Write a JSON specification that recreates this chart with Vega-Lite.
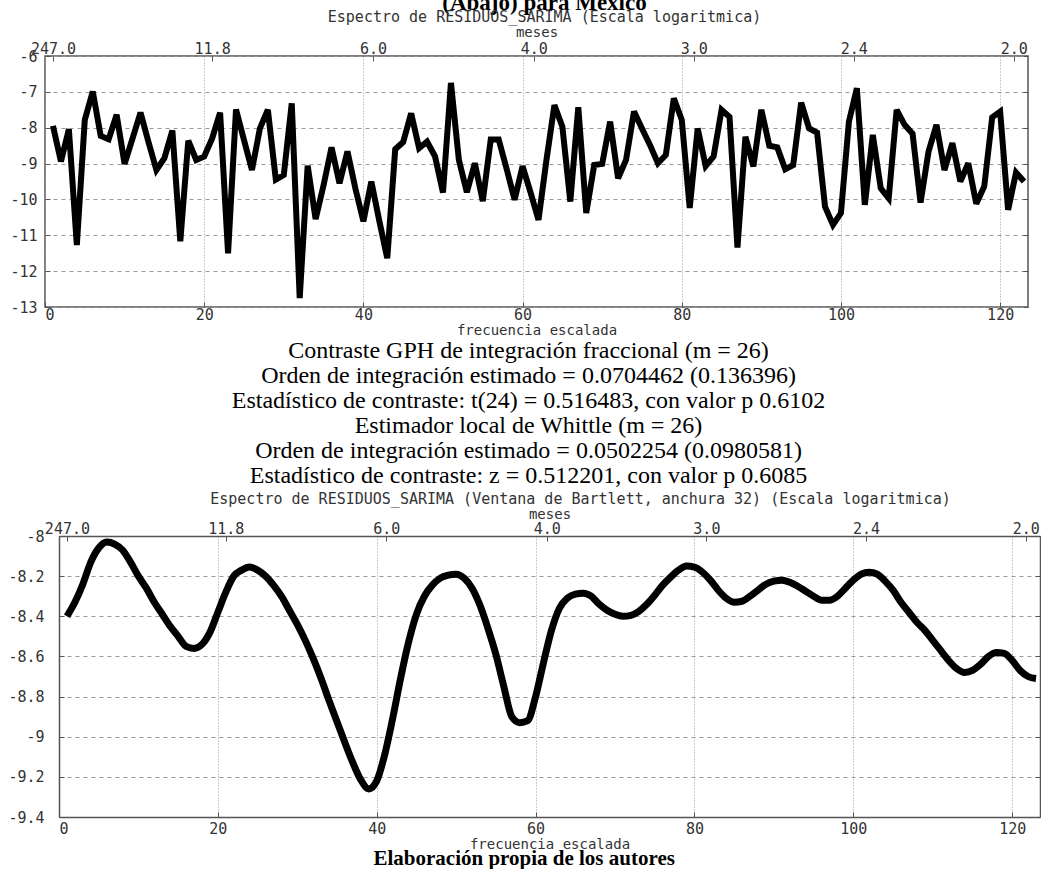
{
  "$schema": "https://vega.github.io/schema/vega-lite/v6.json",
  "background": "white",
  "padding": {"left": 7, "top": -9, "right": 0, "bottom": 0},
  "config": {
    "view": {"stroke": "#555", "strokeWidth": 1.5},
    "axis": {
      "labelFont": "DejaVu Sans Mono", "labelFontSize": 15, "labelColor": "#333",
      "titleFont": "DejaVu Sans Mono", "titleFontSize": 14, "titleFontWeight": "normal", "titleColor": "#333",
      "domain": false, "domainColor": "#555", "domainWidth": 1.5, "tickColor": "#555", "gridColor": "#999", "gridWidth": 1
    }
  },
  "title": {
    "text": "Elaboración propia de los autores", "orient": "bottom", "anchor": "middle",
    "font": "Liberation Serif", "fontSize": 21, "fontWeight": "bold", "color": "black", "offset": -3
  },
  "datasets": {
    "periodograma": [
      {"frecuencia": 1, "log_espectro": -7.95}, {"frecuencia": 2, "log_espectro": -8.94}, {"frecuencia": 3, "log_espectro": -8.04},
      {"frecuencia": 4, "log_espectro": -11.27}, {"frecuencia": 5, "log_espectro": -7.78}, {"frecuencia": 6, "log_espectro": -6.99},
      {"frecuencia": 7, "log_espectro": -8.23}, {"frecuencia": 8, "log_espectro": -8.32}, {"frecuencia": 9, "log_espectro": -7.64},
      {"frecuencia": 10, "log_espectro": -9.01}, {"frecuencia": 11, "log_espectro": -8.3}, {"frecuencia": 12, "log_espectro": -7.58},
      {"frecuencia": 13, "log_espectro": -8.4}, {"frecuencia": 14, "log_espectro": -9.18}, {"frecuencia": 15, "log_espectro": -8.85},
      {"frecuencia": 16, "log_espectro": -8.08}, {"frecuencia": 17, "log_espectro": -11.17}, {"frecuencia": 18, "log_espectro": -8.36},
      {"frecuencia": 19, "log_espectro": -8.9}, {"frecuencia": 20, "log_espectro": -8.8}, {"frecuencia": 21, "log_espectro": -8.3},
      {"frecuencia": 22, "log_espectro": -7.58}, {"frecuencia": 23, "log_espectro": -11.5}, {"frecuencia": 24, "log_espectro": -7.49},
      {"frecuencia": 25, "log_espectro": -8.34}, {"frecuencia": 26, "log_espectro": -9.18}, {"frecuencia": 27, "log_espectro": -8.02},
      {"frecuencia": 28, "log_espectro": -7.5}, {"frecuencia": 29, "log_espectro": -9.45}, {"frecuencia": 30, "log_espectro": -9.32},
      {"frecuencia": 31, "log_espectro": -7.32}, {"frecuencia": 32, "log_espectro": -12.75}, {"frecuencia": 33, "log_espectro": -9.06},
      {"frecuencia": 34, "log_espectro": -10.55}, {"frecuencia": 35, "log_espectro": -9.6}, {"frecuencia": 36, "log_espectro": -8.55},
      {"frecuencia": 37, "log_espectro": -9.55}, {"frecuencia": 38, "log_espectro": -8.66}, {"frecuencia": 39, "log_espectro": -9.7},
      {"frecuencia": 40, "log_espectro": -10.61}, {"frecuencia": 41, "log_espectro": -9.5}, {"frecuencia": 42, "log_espectro": -10.6},
      {"frecuencia": 43, "log_espectro": -11.64}, {"frecuencia": 44, "log_espectro": -8.6}, {"frecuencia": 45, "log_espectro": -8.4},
      {"frecuencia": 46, "log_espectro": -7.6}, {"frecuencia": 47, "log_espectro": -8.57}, {"frecuencia": 48, "log_espectro": -8.39},
      {"frecuencia": 49, "log_espectro": -8.8}, {"frecuencia": 50, "log_espectro": -9.81}, {"frecuencia": 51, "log_espectro": -6.75},
      {"frecuencia": 52, "log_espectro": -8.9}, {"frecuencia": 53, "log_espectro": -9.8}, {"frecuencia": 54, "log_espectro": -8.99},
      {"frecuencia": 55, "log_espectro": -10.05}, {"frecuencia": 56, "log_espectro": -8.33}, {"frecuencia": 57, "log_espectro": -8.33},
      {"frecuencia": 58, "log_espectro": -9.15}, {"frecuencia": 59, "log_espectro": -10.01}, {"frecuencia": 60, "log_espectro": -9.07},
      {"frecuencia": 61, "log_espectro": -9.8}, {"frecuencia": 62, "log_espectro": -10.57}, {"frecuencia": 63, "log_espectro": -8.9},
      {"frecuencia": 64, "log_espectro": -7.37}, {"frecuencia": 65, "log_espectro": -7.97}, {"frecuencia": 66, "log_espectro": -10.06},
      {"frecuencia": 67, "log_espectro": -7.43}, {"frecuencia": 68, "log_espectro": -10.38}, {"frecuencia": 69, "log_espectro": -9.04},
      {"frecuencia": 70, "log_espectro": -9.01}, {"frecuencia": 71, "log_espectro": -7.83}, {"frecuencia": 72, "log_espectro": -9.41},
      {"frecuencia": 73, "log_espectro": -8.9}, {"frecuencia": 74, "log_espectro": -7.55}, {"frecuencia": 75, "log_espectro": -8.02},
      {"frecuencia": 76, "log_espectro": -8.48}, {"frecuencia": 77, "log_espectro": -8.99}, {"frecuencia": 78, "log_espectro": -8.76},
      {"frecuencia": 79, "log_espectro": -7.18}, {"frecuencia": 80, "log_espectro": -7.78}, {"frecuencia": 81, "log_espectro": -10.24},
      {"frecuencia": 82, "log_espectro": -8.02}, {"frecuencia": 83, "log_espectro": -9.07}, {"frecuencia": 84, "log_espectro": -8.8},
      {"frecuencia": 85, "log_espectro": -7.5}, {"frecuencia": 86, "log_espectro": -7.7}, {"frecuencia": 87, "log_espectro": -11.34},
      {"frecuencia": 88, "log_espectro": -8.25}, {"frecuencia": 89, "log_espectro": -9.08}, {"frecuencia": 90, "log_espectro": -7.5},
      {"frecuencia": 91, "log_espectro": -8.5}, {"frecuencia": 92, "log_espectro": -8.55}, {"frecuencia": 93, "log_espectro": -9.16},
      {"frecuencia": 94, "log_espectro": -9.04}, {"frecuencia": 95, "log_espectro": -7.3}, {"frecuencia": 96, "log_espectro": -8.02},
      {"frecuencia": 97, "log_espectro": -8.14}, {"frecuencia": 98, "log_espectro": -10.2}, {"frecuencia": 99, "log_espectro": -10.71},
      {"frecuencia": 100, "log_espectro": -10.38}, {"frecuencia": 101, "log_espectro": -7.83}, {"frecuencia": 102, "log_espectro": -6.9},
      {"frecuencia": 103, "log_espectro": -10.15}, {"frecuencia": 104, "log_espectro": -8.2}, {"frecuencia": 105, "log_espectro": -9.69},
      {"frecuencia": 106, "log_espectro": -9.97}, {"frecuencia": 107, "log_espectro": -7.5}, {"frecuencia": 108, "log_espectro": -7.92},
      {"frecuencia": 109, "log_espectro": -8.17}, {"frecuencia": 110, "log_espectro": -10.09}, {"frecuencia": 111, "log_espectro": -8.67},
      {"frecuencia": 112, "log_espectro": -7.92}, {"frecuencia": 113, "log_espectro": -9.18}, {"frecuencia": 114, "log_espectro": -8.43},
      {"frecuencia": 115, "log_espectro": -9.5}, {"frecuencia": 116, "log_espectro": -8.99}, {"frecuencia": 117, "log_espectro": -10.12},
      {"frecuencia": 118, "log_espectro": -9.64}, {"frecuencia": 119, "log_espectro": -7.71}, {"frecuencia": 120, "log_espectro": -7.55},
      {"frecuencia": 121, "log_espectro": -10.29}, {"frecuencia": 122, "log_espectro": -9.25}, {"frecuencia": 123, "log_espectro": -9.5}
    ],
    "contrastes": [
      {"orden": 1, "linea": "Contraste GPH de integración fraccional (m = 26)"},
      {"orden": 2, "linea": "Orden de integración estimado = 0.0704462 (0.136396)"},
      {"orden": 3, "linea": "Estadístico de contraste: t(24) = 0.516483, con valor p  0.6102"},
      {"orden": 4, "linea": "Estimador local de Whittle (m = 26)"},
      {"orden": 5, "linea": "Orden de integración estimado = 0.0502254 (0.0980581)"},
      {"orden": 6, "linea": "Estadístico de contraste: z = 0.512201, con valor p  0.6085"}
    ],
    "bartlett": [
      {"frecuencia": 1, "log_espectro": -8.4}, {"frecuencia": 2, "log_espectro": -8.33}, {"frecuencia": 3, "log_espectro": -8.24},
      {"frecuencia": 4, "log_espectro": -8.13}, {"frecuencia": 5, "log_espectro": -8.06}, {"frecuencia": 6, "log_espectro": -8.03},
      {"frecuencia": 7, "log_espectro": -8.04}, {"frecuencia": 8, "log_espectro": -8.07}, {"frecuencia": 9, "log_espectro": -8.13},
      {"frecuencia": 10, "log_espectro": -8.2}, {"frecuencia": 11, "log_espectro": -8.26}, {"frecuencia": 12, "log_espectro": -8.33},
      {"frecuencia": 13, "log_espectro": -8.39}, {"frecuencia": 14, "log_espectro": -8.45}, {"frecuencia": 15, "log_espectro": -8.5},
      {"frecuencia": 16, "log_espectro": -8.55}, {"frecuencia": 17, "log_espectro": -8.56}, {"frecuencia": 18, "log_espectro": -8.54},
      {"frecuencia": 19, "log_espectro": -8.48}, {"frecuencia": 20, "log_espectro": -8.38}, {"frecuencia": 21, "log_espectro": -8.28},
      {"frecuencia": 22, "log_espectro": -8.2}, {"frecuencia": 23, "log_espectro": -8.17}, {"frecuencia": 24, "log_espectro": -8.155},
      {"frecuencia": 25, "log_espectro": -8.17}, {"frecuencia": 26, "log_espectro": -8.2}, {"frecuencia": 27, "log_espectro": -8.245},
      {"frecuencia": 28, "log_espectro": -8.3}, {"frecuencia": 29, "log_espectro": -8.37}, {"frecuencia": 30, "log_espectro": -8.44},
      {"frecuencia": 31, "log_espectro": -8.52}, {"frecuencia": 32, "log_espectro": -8.61}, {"frecuencia": 33, "log_espectro": -8.71},
      {"frecuencia": 34, "log_espectro": -8.82}, {"frecuencia": 35, "log_espectro": -8.925}, {"frecuencia": 36, "log_espectro": -9.03},
      {"frecuencia": 37, "log_espectro": -9.13}, {"frecuencia": 38, "log_espectro": -9.215}, {"frecuencia": 39, "log_espectro": -9.26},
      {"frecuencia": 40, "log_espectro": -9.22}, {"frecuencia": 41, "log_espectro": -9.09}, {"frecuencia": 42, "log_espectro": -8.91},
      {"frecuencia": 43, "log_espectro": -8.71}, {"frecuencia": 44, "log_espectro": -8.53}, {"frecuencia": 45, "log_espectro": -8.39},
      {"frecuencia": 46, "log_espectro": -8.3}, {"frecuencia": 47, "log_espectro": -8.245}, {"frecuencia": 48, "log_espectro": -8.21},
      {"frecuencia": 49, "log_espectro": -8.195}, {"frecuencia": 50, "log_espectro": -8.19}, {"frecuencia": 51, "log_espectro": -8.21},
      {"frecuencia": 52, "log_espectro": -8.26}, {"frecuencia": 53, "log_espectro": -8.345}, {"frecuencia": 54, "log_espectro": -8.46},
      {"frecuencia": 55, "log_espectro": -8.59}, {"frecuencia": 56, "log_espectro": -8.75}, {"frecuencia": 57, "log_espectro": -8.9},
      {"frecuencia": 58, "log_espectro": -8.93}, {"frecuencia": 59, "log_espectro": -8.92}, {"frecuencia": 60, "log_espectro": -8.8},
      {"frecuencia": 61, "log_espectro": -8.63}, {"frecuencia": 62, "log_espectro": -8.47}, {"frecuencia": 63, "log_espectro": -8.36},
      {"frecuencia": 64, "log_espectro": -8.31}, {"frecuencia": 65, "log_espectro": -8.29}, {"frecuencia": 66, "log_espectro": -8.285},
      {"frecuencia": 67, "log_espectro": -8.3}, {"frecuencia": 68, "log_espectro": -8.34}, {"frecuencia": 69, "log_espectro": -8.37},
      {"frecuencia": 70, "log_espectro": -8.39}, {"frecuencia": 71, "log_espectro": -8.4}, {"frecuencia": 72, "log_espectro": -8.395},
      {"frecuencia": 73, "log_espectro": -8.375}, {"frecuencia": 74, "log_espectro": -8.34}, {"frecuencia": 75, "log_espectro": -8.295},
      {"frecuencia": 76, "log_espectro": -8.245}, {"frecuencia": 77, "log_espectro": -8.205}, {"frecuencia": 78, "log_espectro": -8.17},
      {"frecuencia": 79, "log_espectro": -8.15}, {"frecuencia": 80, "log_espectro": -8.155}, {"frecuencia": 81, "log_espectro": -8.18},
      {"frecuencia": 82, "log_espectro": -8.22}, {"frecuencia": 83, "log_espectro": -8.27}, {"frecuencia": 84, "log_espectro": -8.31},
      {"frecuencia": 85, "log_espectro": -8.33}, {"frecuencia": 86, "log_espectro": -8.325}, {"frecuencia": 87, "log_espectro": -8.3},
      {"frecuencia": 88, "log_espectro": -8.27}, {"frecuencia": 89, "log_espectro": -8.24}, {"frecuencia": 90, "log_espectro": -8.225},
      {"frecuencia": 91, "log_espectro": -8.22}, {"frecuencia": 92, "log_espectro": -8.23}, {"frecuencia": 93, "log_espectro": -8.25},
      {"frecuencia": 94, "log_espectro": -8.275}, {"frecuencia": 95, "log_espectro": -8.3}, {"frecuencia": 96, "log_espectro": -8.32},
      {"frecuencia": 97, "log_espectro": -8.32}, {"frecuencia": 98, "log_espectro": -8.3}, {"frecuencia": 99, "log_espectro": -8.26},
      {"frecuencia": 100, "log_espectro": -8.22}, {"frecuencia": 101, "log_espectro": -8.19}, {"frecuencia": 102, "log_espectro": -8.18},
      {"frecuencia": 103, "log_espectro": -8.19}, {"frecuencia": 104, "log_espectro": -8.225}, {"frecuencia": 105, "log_espectro": -8.27},
      {"frecuencia": 106, "log_espectro": -8.33}, {"frecuencia": 107, "log_espectro": -8.38}, {"frecuencia": 108, "log_espectro": -8.43},
      {"frecuencia": 109, "log_espectro": -8.47}, {"frecuencia": 110, "log_espectro": -8.52}, {"frecuencia": 111, "log_espectro": -8.57},
      {"frecuencia": 112, "log_espectro": -8.62}, {"frecuencia": 113, "log_espectro": -8.66}, {"frecuencia": 114, "log_espectro": -8.68},
      {"frecuencia": 115, "log_espectro": -8.67}, {"frecuencia": 116, "log_espectro": -8.64}, {"frecuencia": 117, "log_espectro": -8.6},
      {"frecuencia": 118, "log_espectro": -8.58}, {"frecuencia": 119, "log_espectro": -8.585}, {"frecuencia": 120, "log_espectro": -8.62},
      {"frecuencia": 121, "log_espectro": -8.67}, {"frecuencia": 122, "log_espectro": -8.7}, {"frecuencia": 123, "log_espectro": -8.71}
    ]
  },
  "vconcat": [
    {
      "width": 983,
      "height": 251,
      "data": {"name": "periodograma"},
      "title": {
        "text": "(Abajo) para México",
        "subtitle": "Espectro de RESIDUOS_SARIMA (Escala logaritmica)",
        "anchor": "middle", "dx": 8, "font": "Liberation Serif", "fontSize": 23, "fontWeight": "bold", "color": "black",
        "subtitleFont": "DejaVu Sans Mono", "subtitleFontSize": 15, "subtitleColor": "#333", "subtitlePadding": -5, "offset": 0
      },
      "layer": [
        {
          "mark": {"type": "line", "color": "black", "strokeWidth": 6, "strokeJoin": "miter", "strokeMiterLimit": 3},
          "encoding": {
            "x": {"field": "frecuencia", "type": "quantitative",
              "scale": {"domain": [0, 123.5], "nice": false, "zero": false},
              "axis": {"orient": "bottom", "title": "frecuencia escalada", "values": [0, 20, 40, 60, 80, 100, 120],
                "grid": true, "gridDash": [1, 2], "tickSize": -5, "labelPadding": 5, "titlePadding": 1}},
            "y": {"field": "log_espectro", "type": "quantitative",
              "scale": {"domain": [-13, -6], "nice": false, "zero": false},
              "axis": {"orient": "left", "title": null, "values": [-13, -12, -11, -10, -9, -8, -7, -6],
                "grid": true, "gridDash": [4, 4], "tickSize": -5, "labelPadding": 13,
                "labelExpr": "datum.value < 0 ? '-' + format(-datum.value, '~g') : format(datum.value, '~g')"}}
          }
        },
        {
          "mark": {"type": "line", "opacity": 0},
          "encoding": {
            "x": {"field": "frecuencia", "type": "quantitative",
              "axis": {"orient": "top", "title": "meses", "values": [1, 21, 41.2, 61.4, 81.5, 101.6, 121.7],
                "grid": false, "tickSize": -5, "labelPadding": 5, "titlePadding": 2,
                "labelExpr": "format(247 / datum.value, '.1f')"}},
            "y": {"field": "log_espectro", "type": "quantitative",
              "axis": {"orient": "right", "title": null, "values": [-13, -12, -11, -10, -9, -8, -7, -6],
                "labels": false, "grid": false, "tickSize": -5}}
          }
        }
      ],
      "resolve": {"axis": {"x": "independent", "y": "independent"}}
    },
    {
      "width": 995,
      "height": 150,
      "view": {"stroke": null},
      "data": {"name": "contrastes"},
      "mark": {"type": "text", "font": "Liberation Serif", "fontSize": 24, "color": "black", "align": "center", "baseline": "middle", "dx": -14, "dy": -4},
      "encoding": {
        "y": {"field": "orden", "type": "ordinal", "axis": null, "scale": {"paddingInner": 0, "paddingOuter": 0}},
        "text": {"field": "linea", "type": "nominal"}
      }
    },
    {
      "width": 995,
      "height": 281,
      "view": {"stroke": null},
      "data": {"name": "bartlett"},
      "title": {
        "text": "Espectro de RESIDUOS_SARIMA (Ventana de Bartlett, anchura 32) (Escala logaritmica)",
        "anchor": "middle", "dx": 38, "font": "DejaVu Sans Mono", "fontSize": 15, "fontWeight": "normal", "color": "#333", "offset": 0
      },
      "layer": [
        {
          "mark": {"type": "line", "color": "black", "strokeWidth": 7, "strokeJoin": "round", "interpolate": "monotone"},
          "encoding": {
            "x": {"field": "frecuencia", "type": "quantitative",
              "scale": {"domain": [0, 123.5], "nice": false, "zero": false, "range": [14, 995]},
              "axis": {"orient": "bottom", "title": "frecuencia escalada", "values": [0, 20, 40, 60, 80, 100, 120],
                "domain": true, "grid": true, "gridDash": [1, 2], "tickSize": -5, "labelPadding": 9, "titlePadding": 1}},
            "y": {"field": "log_espectro", "type": "quantitative",
              "scale": {"domain": [-9.4, -8], "nice": false, "zero": false},
              "axis": {"orient": "left", "title": null, "offset": -14, "values": [-9.4, -9.2, -9, -8.8, -8.6, -8.4, -8.2, -8],
                "domain": true, "grid": true, "gridDash": [4, 4], "tickSize": -5, "labelPadding": 20,
                "labelExpr": "datum.value < 0 ? '-' + format(-datum.value, '~g') : format(datum.value, '~g')"}}
          }
        },
        {
          "mark": {"type": "line", "opacity": 0},
          "encoding": {
            "x": {"field": "frecuencia", "type": "quantitative",
              "axis": {"orient": "top", "title": "meses", "values": [1, 21, 41.2, 61.4, 81.5, 101.6, 121.7],
                "domain": true, "grid": false, "tickSize": -5, "labelPadding": 5, "titlePadding": 0,
                "labelExpr": "format(247 / datum.value, '.1f')"}},
            "y": {"field": "log_espectro", "type": "quantitative",
              "axis": {"orient": "right", "title": null, "values": [-9.4, -9.2, -9, -8.8, -8.6, -8.4, -8.2, -8],
                "domain": true, "labels": false, "grid": false, "tickSize": -5}}
          }
        }
      ],
      "resolve": {"axis": {"x": "independent", "y": "independent"}}
    }
  ],
  "spacing": 0
}
